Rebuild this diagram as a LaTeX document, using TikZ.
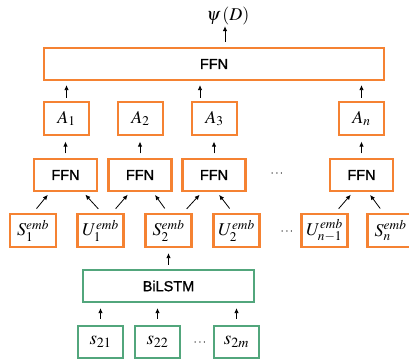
\documentclass[tikz,border=0pt]{standalone}
\usepackage{mathptmx}
\usepackage[no-math]{fontspec}
\newfontfamily\labelsans[RawFeature={embolden=1.2}]{Liberation Sans}
\usetikzlibrary{arrows.meta}
\definecolor{boxorange}{RGB}{245,130,50}
\definecolor{boxgreen}{RGB}{82,166,124}
\begin{document}
\begin{tikzpicture}[x=1pt,y=-1pt,
  box/.style={draw, line width=2.2pt, fill=white, inner sep=0pt},
  obox/.style={box, draw=boxorange},
  gbox/.style={box, draw=boxgreen},
  ffn/.style={obox, minimum width=63pt, minimum height=32pt,
    font=\labelsans\fontsize{14.5}{16}\selectfont},
  anode/.style={obox, minimum width=45pt, minimum height=33pt,
    font=\fontsize{18}{20}\selectfont},
  emb/.style={obox, minimum width=46pt, minimum height=33pt,
    font=\fontsize{18}{20}\selectfont},
  snode/.style={gbox, minimum width=45pt, minimum height=32pt,
    font=\fontsize{19}{21}\selectfont},
  dotsnode/.style={inner sep=0pt, font=\fontsize{12}{14}\selectfont},
  arr/.style={-{Latex[length=5pt,width=4.5pt]}, line width=0.8pt, black},
]
\useasboundingbox (0,0) rectangle (409,360);

% output
\node[inner sep=1pt, font=\fontsize{18}{20}\selectfont] (psi) at (228,16) {$\psi\,(D)$};

% top feed-forward layer
\node[ffn, minimum width=340pt] (top) at (214,64) {FFN};

% attention outputs
\node[anode] (A1) at (66.5,118.5) {$A_1$};
\node[anode] (A2) at (140.5,118.5) {$A_2$};
\node[anode] (A3) at (214.5,118.5) {$A_3$};
\node[anode] (An) at (361.5,118.5) {$A_n$};

% pairwise feed-forward layers
\node[ffn] (F1) at (65.5,175) {FFN};
\node[ffn] (F2) at (140,175) {FFN};
\node[ffn] (F3) at (214,175) {FFN};
\node[ffn] (Fn) at (361.5,175) {FFN};
\node[dotsnode] (d1) at (277,174) {$\cdots$};

% embeddings
\node[emb] (S1) at (33,230.5) {$S_1^{emb}$};
\node[emb] (U1) at (100.5,230.5) {$U_1^{emb}$};
\node[emb] (S2) at (168.5,230.5) {$S_2^{emb}$};
\node[emb] (U2) at (236.5,230.5) {$U_2^{emb}$};
\node[dotsnode] (d2) at (287,232) {$\cdots$};
\node[emb] (Um) at (324.5,230.5) {$U_{n-1}^{emb}$};
\node[emb] (Sn) at (390.5,230.5) {$S_n^{emb}$};

% sentence encoder
\node[gbox, minimum width=171pt, minimum height=32pt,
  font=\labelsans\fontsize{14.5}{16}\selectfont] (lstm) at (168.5,286) {BiLSTM};
\node[snode] (s21) at (100.5,342) {$s_{21}$};
\node[snode] (s22) at (157.5,342) {$s_{22}$};
\node[snode] (s2m) at (236.5,342) {$s_{2m}$};
\node[dotsnode] (d3) at (200,343) {$\cdots$};

% arrows
\draw[arr, shorten <=5pt] ([xshift=-3pt]psi.south |- top.north) -- ([xshift=-3pt]psi.south);

\draw[arr, shorten <=3pt, shorten >=4pt] (A1.north) -- (A1.north |- top.south);
\draw[arr, shorten <=3pt, shorten >=4pt] ([xshift=-14.5pt]A3.north) -- ([xshift=-14.5pt]A3.north |- top.south);
\draw[arr, shorten <=3pt, shorten >=4pt] (An.north) -- (An.north |- top.south);

\foreach \f/\a in {F1/A1, F2/A2, F3/A3, Fn/An}
  \draw[arr, shorten <=4.5pt, shorten >=5.5pt] (\f.north) -- (\f.north |- \a.south);

\tikzset{diag/.style={arr, shorten <=5.5pt, shorten >=3.5pt}}
\draw[diag] (S1.north) -- ([xshift=-15.5pt]F1.south);
\draw[diag] ([xshift=1.5pt]U1.north) -- ([xshift=17.5pt]F1.south);
\draw[diag] ([xshift=11.5pt]U1.north) -- ([xshift=-10pt]F2.south);
\draw[diag] ([xshift=-0.5pt]S2.north) -- ([xshift=13pt]F2.south);
\draw[diag] ([xshift=14.5pt]S2.north) -- ([xshift=-12pt]F3.south);
\draw[diag] ([xshift=-3.5pt]U2.north) -- ([xshift=3pt]F3.south);
\draw[diag] ([xshift=10.5pt]Um.north) -- ([xshift=-8.5pt]Fn.south);
\draw[diag] ([xshift=-7pt]Sn.north) -- ([xshift=6.5pt]Fn.south);

\draw[arr, shorten <=4pt, shorten >=5pt] (lstm.north -| S2.south) -- (S2.south);

\draw[arr, shorten <=6pt, shorten >=5pt] (s21.north) -- (s21.north |- lstm.south);
\draw[arr, shorten <=6pt, shorten >=5pt] (s22.north) -- (s22.north |- lstm.south);
\draw[arr, shorten <=6pt, shorten >=5pt] (s2m.north) -- (s2m.north |- lstm.south);
\end{tikzpicture}
\end{document}
